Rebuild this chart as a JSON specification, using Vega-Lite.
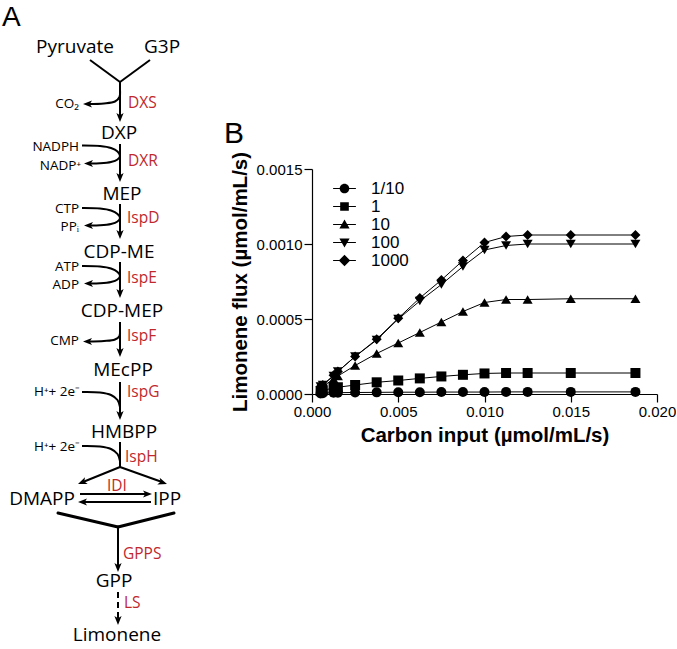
{
  "$schema": "https://vega.github.io/schema/vega-lite/v6.json",
  "padding": 0,
  "background": "white",
  "config": {
    "view": {"stroke": null},
    "axis": {
      "domainColor": "black", "tickColor": "black", "labelColor": "black", "titleColor": "black",
      "grid": false, "tickSize": 8, "labelPadding": 2, "labelFontSize": 15, "titleFontSize": 20.5,
      "titleFontWeight": "bold", "labelFont": "Liberation Sans", "titleFont": "Liberation Sans",
      "domainWidth": 1.2, "tickWidth": 1.2, "labelFlush": false
    }
  },
  "datasets": {
    "labels": [
      {"t": "A", "x": 2, "y": 26, "k": "letter"},
      {"t": "Pyruvate", "x": 75, "y": 53, "k": "met"},
      {"t": "G3P", "x": 162, "y": 53, "k": "met"},
      {"t": "DXP", "x": 119, "y": 139, "k": "met"},
      {"t": "MEP", "x": 122, "y": 200, "k": "met"},
      {"t": "CDP-ME", "x": 119, "y": 258, "k": "met"},
      {"t": "CDP-MEP", "x": 122, "y": 317, "k": "met"},
      {"t": "MEcPP", "x": 123, "y": 376, "k": "met"},
      {"t": "HMBPP", "x": 124, "y": 438, "k": "met"},
      {"t": "DMAPP", "x": 42, "y": 505, "k": "met"},
      {"t": "IPP", "x": 167, "y": 505, "k": "met"},
      {"t": "GPP", "x": 114, "y": 587, "k": "met"},
      {"t": "Limonene", "x": 117, "y": 641, "k": "met"},
      {"t": "DXS", "x": 128, "y": 108, "k": "enz"},
      {"t": "DXR", "x": 128, "y": 166, "k": "enz"},
      {"t": "IspD", "x": 127, "y": 223, "k": "enz"},
      {"t": "IspE", "x": 127, "y": 283, "k": "enz"},
      {"t": "IspF", "x": 127, "y": 341, "k": "enz"},
      {"t": "IspG", "x": 127, "y": 397, "k": "enz"},
      {"t": "IspH", "x": 125, "y": 462, "k": "enz"},
      {"t": "IDI", "x": 107, "y": 491, "k": "enz"},
      {"t": "GPPS", "x": 123, "y": 559, "k": "enz"},
      {"t": "LS", "x": 124, "y": 608, "k": "enz"},
      {"t": "CO₂", "x": 79, "y": 108, "k": "cof"},
      {"t": "NADPH", "x": 79, "y": 151, "k": "cof"},
      {"t": "NADP⁺", "x": 81, "y": 170, "k": "cof"},
      {"t": "CTP", "x": 79, "y": 213, "k": "cof"},
      {"t": "PPᵢ", "x": 79, "y": 231, "k": "cof"},
      {"t": "ATP", "x": 79, "y": 271, "k": "cof"},
      {"t": "ADP", "x": 79, "y": 289, "k": "cof"},
      {"t": "CMP", "x": 79, "y": 345, "k": "cof"},
      {"t": "H⁺+ 2e⁻", "x": 80, "y": 396, "k": "cof"},
      {"t": "H⁺+ 2e⁻", "x": 80, "y": 451, "k": "cof"}
    ],
    "paths": [
      {"p": "p1", "o": 0, "x": 90, "y": 60, "k": "main"}, {"p": "p1", "o": 1, "x": 120, "y": 82, "k": "main"},
      {"p": "p2", "o": 0, "x": 150, "y": 60, "k": "main"}, {"p": "p2", "o": 1, "x": 120, "y": 82, "k": "main"},
      {"p": "p3", "o": 0, "x": 120, "y": 82, "k": "main"}, {"p": "p3", "o": 1, "x": 120, "y": 117, "k": "main"},
      {"p": "p4", "o": 0, "x": 120, "y": 144, "k": "main"}, {"p": "p4", "o": 1, "x": 120, "y": 177, "k": "main"},
      {"p": "p5", "o": 0, "x": 120, "y": 204, "k": "main"}, {"p": "p5", "o": 1, "x": 120, "y": 234, "k": "main"},
      {"p": "p6", "o": 0, "x": 120, "y": 262, "k": "main"}, {"p": "p6", "o": 1, "x": 120, "y": 293, "k": "main"},
      {"p": "p7", "o": 0, "x": 120, "y": 322, "k": "main"}, {"p": "p7", "o": 1, "x": 120, "y": 352, "k": "main"},
      {"p": "p8", "o": 0, "x": 120, "y": 382, "k": "main"}, {"p": "p8", "o": 1, "x": 120, "y": 415, "k": "main"},
      {"p": "p9", "o": 0, "x": 120, "y": 442, "k": "main"}, {"p": "p9", "o": 1, "x": 120, "y": 467, "k": "main"},
      {"p": "p10", "o": 0, "x": 120, "y": 467, "k": "main"}, {"p": "p10", "o": 1, "x": 83, "y": 482, "k": "main"},
      {"p": "p11", "o": 0, "x": 120, "y": 467, "k": "main"}, {"p": "p11", "o": 1, "x": 162, "y": 482, "k": "main"},
      {"p": "p12", "o": 0, "x": 80, "y": 494, "k": "main"}, {"p": "p12", "o": 1, "x": 147, "y": 494, "k": "main"},
      {"p": "p13", "o": 0, "x": 151, "y": 502, "k": "main"}, {"p": "p13", "o": 1, "x": 83, "y": 502, "k": "main"},
      {"p": "p14", "o": 0, "x": 58, "y": 513, "k": "thick"}, {"p": "p14", "o": 1, "x": 118, "y": 527, "k": "thick"},
      {"p": "p15", "o": 0, "x": 174, "y": 513, "k": "thick"}, {"p": "p15", "o": 1, "x": 118, "y": 527, "k": "thick"},
      {"p": "p16", "o": 0, "x": 118, "y": 527, "k": "main"}, {"p": "p16", "o": 1, "x": 118, "y": 567, "k": "main"},
      {"p": "p17", "o": 0, "x": 118, "y": 592, "k": "dash"}, {"p": "p17", "o": 1, "x": 118, "y": 620, "k": "dash"},
      {"p": "c1", "o": 0, "x": 120, "y": 90, "k": "main"}, {"p": "c1", "o": 1, "x": 119.5, "y": 97, "k": "main"}, {"p": "c1", "o": 2, "x": 115, "y": 101.5, "k": "main"}, {"p": "c1", "o": 3, "x": 104, "y": 103.5, "k": "main"}, {"p": "c1", "o": 4, "x": 88, "y": 104, "k": "main"},
      {"p": "c2", "o": 0, "x": 82, "y": 145.5, "k": "main"}, {"p": "c2", "o": 1, "x": 100, "y": 146, "k": "main"}, {"p": "c2", "o": 2, "x": 111, "y": 148, "k": "main"}, {"p": "c2", "o": 3, "x": 117.5, "y": 151.5, "k": "main"}, {"p": "c2", "o": 4, "x": 120, "y": 156, "k": "main"}, {"p": "c2", "o": 5, "x": 117.5, "y": 159.5, "k": "main"}, {"p": "c2", "o": 6, "x": 111, "y": 162, "k": "main"}, {"p": "c2", "o": 7, "x": 100, "y": 163.3, "k": "main"}, {"p": "c2", "o": 8, "x": 89, "y": 163.5, "k": "main"},
      {"p": "c3", "o": 0, "x": 82, "y": 208, "k": "main"}, {"p": "c3", "o": 1, "x": 100, "y": 208.5, "k": "main"}, {"p": "c3", "o": 2, "x": 111, "y": 210.5, "k": "main"}, {"p": "c3", "o": 3, "x": 117.5, "y": 214, "k": "main"}, {"p": "c3", "o": 4, "x": 120, "y": 218, "k": "main"}, {"p": "c3", "o": 5, "x": 117.5, "y": 221.5, "k": "main"}, {"p": "c3", "o": 6, "x": 111, "y": 224, "k": "main"}, {"p": "c3", "o": 7, "x": 100, "y": 225.3, "k": "main"}, {"p": "c3", "o": 8, "x": 89, "y": 225.5, "k": "main"},
      {"p": "c4", "o": 0, "x": 82, "y": 266, "k": "main"}, {"p": "c4", "o": 1, "x": 100, "y": 266.5, "k": "main"}, {"p": "c4", "o": 2, "x": 111, "y": 268.5, "k": "main"}, {"p": "c4", "o": 3, "x": 117.5, "y": 272, "k": "main"}, {"p": "c4", "o": 4, "x": 120, "y": 276, "k": "main"}, {"p": "c4", "o": 5, "x": 117.5, "y": 279.5, "k": "main"}, {"p": "c4", "o": 6, "x": 111, "y": 282, "k": "main"}, {"p": "c4", "o": 7, "x": 100, "y": 283.3, "k": "main"}, {"p": "c4", "o": 8, "x": 89, "y": 283.5, "k": "main"},
      {"p": "c5", "o": 0, "x": 120, "y": 330, "k": "main"}, {"p": "c5", "o": 1, "x": 119.5, "y": 336, "k": "main"}, {"p": "c5", "o": 2, "x": 115, "y": 339.5, "k": "main"}, {"p": "c5", "o": 3, "x": 104, "y": 341, "k": "main"}, {"p": "c5", "o": 4, "x": 88, "y": 341.5, "k": "main"},
      {"p": "c6", "o": 0, "x": 82, "y": 392, "k": "main"}, {"p": "c6", "o": 1, "x": 100, "y": 392.5, "k": "main"}, {"p": "c6", "o": 2, "x": 111, "y": 395, "k": "main"}, {"p": "c6", "o": 3, "x": 117.5, "y": 400, "k": "main"}, {"p": "c6", "o": 4, "x": 120, "y": 407, "k": "main"},
      {"p": "c7", "o": 0, "x": 82, "y": 446, "k": "main"}, {"p": "c7", "o": 1, "x": 100, "y": 446.5, "k": "main"}, {"p": "c7", "o": 2, "x": 111, "y": 449, "k": "main"}, {"p": "c7", "o": 3, "x": 117.5, "y": 454, "k": "main"}, {"p": "c7", "o": 4, "x": 120, "y": 461, "k": "main"}
    ],
    "arrows": [
      {"x": 120, "y": 122, "a": 180}, {"x": 120, "y": 182, "a": 180}, {"x": 120, "y": 239, "a": 180},
      {"x": 120, "y": 298, "a": 180}, {"x": 120, "y": 357, "a": 180}, {"x": 120, "y": 420, "a": 180},
      {"x": 78, "y": 484, "a": 248}, {"x": 167, "y": 484, "a": 109},
      {"x": 152, "y": 494, "a": 90}, {"x": 78, "y": 502, "a": 270},
      {"x": 118, "y": 572, "a": 180}, {"x": 118, "y": 625, "a": 180},
      {"x": 83, "y": 104, "a": 270}, {"x": 84, "y": 163.5, "a": 270}, {"x": 84, "y": 225.5, "a": 270},
      {"x": 84, "y": 283.5, "a": 270}, {"x": 83, "y": 341.5, "a": 270}
    ],
    "flux": [
      {"s": "1/10", "c": 0.0005, "f": 0.000004}, {"s": "1/10", "c": 0.000625, "f": 0.000005}, {"s": "1/10", "c": 0.00125, "f": 0.000008}, {"s": "1/10", "c": 0.0015, "f": 0.000009}, {"s": "1/10", "c": 0.0025, "f": 0.00001}, {"s": "1/10", "c": 0.00375, "f": 0.000011}, {"s": "1/10", "c": 0.005, "f": 0.000012}, {"s": "1/10", "c": 0.00625, "f": 0.000012}, {"s": "1/10", "c": 0.0075, "f": 0.000013}, {"s": "1/10", "c": 0.00875, "f": 0.000013}, {"s": "1/10", "c": 0.01, "f": 0.000013}, {"s": "1/10", "c": 0.01125, "f": 0.000014}, {"s": "1/10", "c": 0.0125, "f": 0.000014}, {"s": "1/10", "c": 0.015, "f": 0.000014}, {"s": "1/10", "c": 0.01875, "f": 0.000014},
      {"s": "1", "c": 0.0005, "f": 0.00002}, {"s": "1", "c": 0.000625, "f": 0.000024}, {"s": "1", "c": 0.00125, "f": 0.00004}, {"s": "1", "c": 0.0015, "f": 0.000045}, {"s": "1", "c": 0.0025, "f": 0.00006}, {"s": "1", "c": 0.00375, "f": 0.000078}, {"s": "1", "c": 0.005, "f": 0.00009}, {"s": "1", "c": 0.00625, "f": 0.000104}, {"s": "1", "c": 0.0075, "f": 0.000117}, {"s": "1", "c": 0.00875, "f": 0.000128}, {"s": "1", "c": 0.01, "f": 0.000137}, {"s": "1", "c": 0.01125, "f": 0.00014}, {"s": "1", "c": 0.0125, "f": 0.00014}, {"s": "1", "c": 0.015, "f": 0.00014}, {"s": "1", "c": 0.01875, "f": 0.00014},
      {"s": "10", "c": 0.0005, "f": 0.00004}, {"s": "10", "c": 0.000625, "f": 0.00005}, {"s": "10", "c": 0.00125, "f": 0.0001}, {"s": "10", "c": 0.0015, "f": 0.00012}, {"s": "10", "c": 0.0025, "f": 0.00019}, {"s": "10", "c": 0.00375, "f": 0.00027}, {"s": "10", "c": 0.005, "f": 0.00034}, {"s": "10", "c": 0.00625, "f": 0.00041}, {"s": "10", "c": 0.0075, "f": 0.00048}, {"s": "10", "c": 0.00875, "f": 0.00055}, {"s": "10", "c": 0.01, "f": 0.00061}, {"s": "10", "c": 0.01125, "f": 0.00063}, {"s": "10", "c": 0.0125, "f": 0.00063}, {"s": "10", "c": 0.015, "f": 0.000635}, {"s": "10", "c": 0.01875, "f": 0.000635},
      {"s": "100", "c": 0.0005, "f": 0.00005}, {"s": "100", "c": 0.000625, "f": 0.00006}, {"s": "100", "c": 0.00125, "f": 0.00012}, {"s": "100", "c": 0.0015, "f": 0.00015}, {"s": "100", "c": 0.0025, "f": 0.00025}, {"s": "100", "c": 0.00375, "f": 0.00036}, {"s": "100", "c": 0.005, "f": 0.0005}, {"s": "100", "c": 0.00625, "f": 0.00062}, {"s": "100", "c": 0.0075, "f": 0.00073}, {"s": "100", "c": 0.00875, "f": 0.00085}, {"s": "100", "c": 0.01, "f": 0.00096}, {"s": "100", "c": 0.01125, "f": 0.00099}, {"s": "100", "c": 0.0125, "f": 0.001}, {"s": "100", "c": 0.015, "f": 0.001}, {"s": "100", "c": 0.01875, "f": 0.001},
      {"s": "1000", "c": 0.0005, "f": 0.00005}, {"s": "1000", "c": 0.000625, "f": 0.00006}, {"s": "1000", "c": 0.00125, "f": 0.000125}, {"s": "1000", "c": 0.0015, "f": 0.00015}, {"s": "1000", "c": 0.0025, "f": 0.00025}, {"s": "1000", "c": 0.00375, "f": 0.000365}, {"s": "1000", "c": 0.005, "f": 0.000505}, {"s": "1000", "c": 0.00625, "f": 0.00064}, {"s": "1000", "c": 0.0075, "f": 0.00076}, {"s": "1000", "c": 0.00875, "f": 0.00089}, {"s": "1000", "c": 0.01, "f": 0.00101}, {"s": "1000", "c": 0.01125, "f": 0.00105}, {"s": "1000", "c": 0.0125, "f": 0.00106}, {"s": "1000", "c": 0.015, "f": 0.00106}, {"s": "1000", "c": 0.01875, "f": 0.00106}
    ]
  },
  "resolve": {"scale": {"x": "independent", "y": "independent"}},
  "spacing": 16,
  "hconcat": [
    {
      "width": 208,
      "height": 649,
      "encoding": {
        "x": {"field": "x", "type": "quantitative", "scale": {"domain": [0, 208], "nice": false, "zero": false}, "axis": null},
        "y": {"field": "y", "type": "quantitative", "scale": {"domain": [0, 649], "nice": false, "zero": false, "reverse": true}, "axis": null}
      },
      "layer": [
        {
          "data": {"name": "paths"},
          "transform": [{"filter": "datum.k == 'main'"}],
          "mark": {"type": "line", "color": "black", "strokeWidth": 2, "interpolate": "catmull-rom", "strokeCap": "butt"},
          "encoding": {"detail": {"field": "p"}, "order": {"field": "o", "type": "quantitative"}}
        },
        {
          "data": {"name": "paths"},
          "transform": [{"filter": "datum.k == 'thick'"}],
          "mark": {"type": "line", "color": "black", "strokeWidth": 3, "strokeCap": "round"},
          "encoding": {"detail": {"field": "p"}, "order": {"field": "o", "type": "quantitative"}}
        },
        {
          "data": {"name": "paths"},
          "transform": [{"filter": "datum.k == 'dash'"}],
          "mark": {"type": "line", "color": "black", "strokeWidth": 2, "strokeDash": [6, 4]},
          "encoding": {"detail": {"field": "p"}, "order": {"field": "o", "type": "quantitative"}}
        },
        {
          "data": {"name": "arrows"},
          "mark": {"type": "point", "shape": "M0,0L0.8,2L0,1.5L-0.8,2Z", "filled": true, "color": "black", "size": 81, "opacity": 1, "strokeWidth": 0},
          "encoding": {"angle": {"field": "a", "type": "quantitative", "scale": null}}
        },
        {
          "data": {"name": "labels"},
          "transform": [{"filter": "datum.k == 'met'"}],
          "mark": {"type": "text", "font": "Open Sans", "fontSize": 19, "align": "center", "baseline": "alphabetic", "color": "black"},
          "encoding": {"text": {"field": "t"}}
        },
        {
          "data": {"name": "labels"},
          "transform": [{"filter": "datum.k == 'enz'"}],
          "mark": {"type": "text", "font": "Open Sans", "fontSize": 15.5, "align": "left", "baseline": "alphabetic", "color": "#c0282d"},
          "encoding": {"text": {"field": "t"}}
        },
        {
          "data": {"name": "labels"},
          "transform": [{"filter": "datum.k == 'cof'"}],
          "mark": {"type": "text", "font": "Open Sans", "fontSize": 13.5, "align": "right", "baseline": "alphabetic", "color": "black"},
          "encoding": {"text": {"field": "t"}}
        },
        {
          "data": {"name": "labels"},
          "transform": [{"filter": "datum.k == 'letter'"}],
          "mark": {"type": "text", "font": "Liberation Sans", "fontSize": 28, "align": "left", "baseline": "alphabetic", "color": "black"},
          "encoding": {"text": {"field": "t"}}
        }
      ]
    },
    {
      "spacing": 0,
      "resolve": {"scale": {"x": "independent", "y": "independent"}},
      "vconcat": [
        {
          "width": 345,
          "height": 119,
          "data": {"values": []},
          "mark": {"type": "point"},
          "encoding": {}
        },
        {
          "width": 345,
          "height": 225,
          "title": {"text": "B", "fontSize": 30, "fontWeight": "normal", "font": "Liberation Sans", "anchor": "start", "frame": "bounds", "offset": 2, "color": "black", "dx": -6},
          "data": {"name": "flux"},
          "encoding": {
            "x": {"field": "c", "type": "quantitative", "title": "Carbon input (µmol/mL/s)", "scale": {"domain": [0, 0.02], "nice": false, "zero": true}, "axis": {"values": [0, 0.005, 0.01, 0.015, 0.02], "format": ".3f", "titlePadding": 6}},
            "y": {"field": "f", "type": "quantitative", "title": "Limonene flux (µmol/mL/s)", "scale": {"domain": [0, 0.0015], "nice": false, "zero": true}, "axis": {"values": [0, 0.0005, 0.001, 0.0015], "format": ".4f", "titlePadding": 6}}
          },
          "layer": [
            {
              "mark": {"type": "line", "color": "black", "strokeWidth": 1},
              "encoding": {"detail": {"field": "s"}}
            },
            {
              "mark": {"type": "point", "filled": true, "color": "black", "size": 100, "opacity": 1},
              "encoding": {
                "shape": {"field": "s", "type": "nominal", "scale": {"domain": ["1/10", "1", "10", "100", "1000"], "range": ["circle", "square", "triangle-up", "triangle-down", "diamond"]}, "legend": null}
              }
            },
            {
              "transform": [{"filter": "false"}],
              "mark": {"type": "point", "filled": true, "color": "black", "size": 144, "opacity": 1},
              "encoding": {
                "shape": {
                  "field": "s", "type": "nominal",
                  "scale": {"domain": ["1/10", "1", "10", "100", "1000"], "range": [
                    "M-1.9,-0.1H1.9V0.1H-1.9ZM0.8,0A0.8,0.8,0,1,1,-0.8,0A0.8,0.8,0,1,1,0.8,0Z",
                    "M-1.9,-0.1H1.9V0.1H-1.9ZM-0.72,-0.72H0.72V0.72H-0.72Z",
                    "M-1.9,-0.1H1.9V0.1H-1.9ZM0,-0.85L0.85,0.65H-0.85Z",
                    "M-1.9,-0.1H1.9V0.1H-1.9ZM0,0.85L-0.85,-0.65H0.85Z",
                    "M-1.9,-0.1H1.9V0.1H-1.9ZM0,-0.95L0.95,0L0,0.95L-0.95,0Z"
                  ]},
                  "legend": {
                    "orient": "none", "legendX": 24, "legendY": 11, "title": null,
                    "symbolSize": 144, "labelFontSize": 17, "labelFont": "Liberation Sans", "labelColor": "black",
                    "labelOffset": 18, "padding": 0, "rowPadding": 0
                  }
                }
              }
            }
          ],
          "resolve": {"scale": {"shape": "independent"}}
        }
      ]
    }
  ]
}
